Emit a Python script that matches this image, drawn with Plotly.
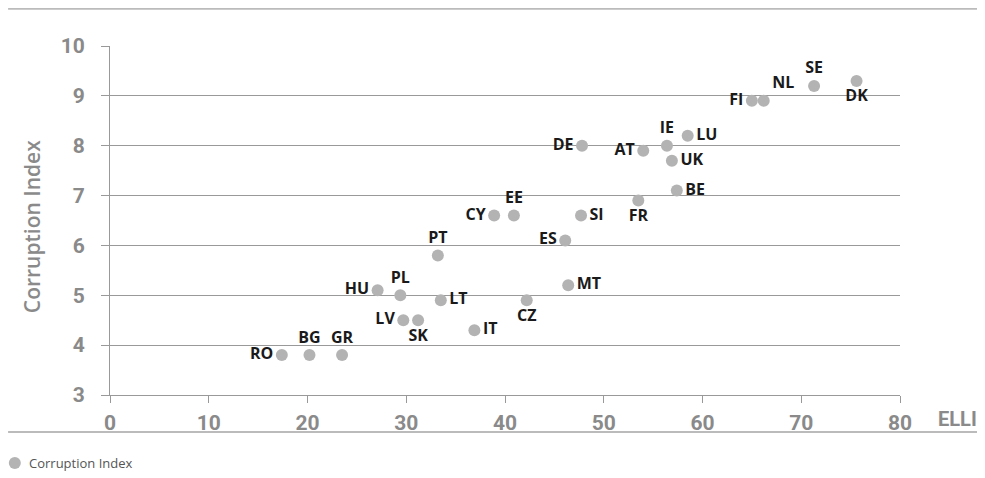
import plotly.graph_objects as go

countries = ["RO", "BG", "GR", "HU", "PL", "LV", "SK", "LT", "IT", "CZ", "PT", "CY", "EE", "ES",
             "SI", "MT", "DE", "AT", "FR", "IE", "LU", "UK", "BE", "FI", "NL", "SE", "DK"]
elli = [17.4, 20.2, 23.5, 27.1, 29.4, 29.7, 31.2, 33.5, 36.9, 42.2, 33.2, 38.9, 40.9, 46.1,
        47.7, 46.4, 47.8, 54.0, 53.5, 56.4, 58.5, 56.9, 57.4, 65.0, 66.2, 71.3, 75.6]
corruption = [3.8, 3.8, 3.8, 5.1, 5.0, 4.5, 4.5, 4.9, 4.3, 4.9, 5.8, 6.6, 6.6, 6.1,
              6.6, 5.2, 8.0, 7.9, 6.9, 8.0, 8.2, 7.7, 7.1, 8.9, 8.9, 9.2, 9.3]
label_pos = ["middle left", "top center", "top center", "middle left", "top center", "middle left",
             "bottom center", "middle right", "middle right", "bottom center", "top center",
             "middle left", "top center", "middle left", "middle right", "middle right",
             "middle left", "middle left", "bottom center", "top center", "middle right",
             "middle right", "middle right", "middle left", "top right", "top center", "bottom center"]

x_ticks = [0, 10, 20, 30, 40, 50, 60, 70, 80]
y_ticks = [3, 4, 5, 6, 7, 8, 9, 10]

GRAY = "#8a8a8a"
DOT = "#b3b3b3"
COND = "Roboto, sans-serif"
TICKFONT = dict(family=COND, size=21, color=GRAY, weight="bold")

fig = go.Figure()
fig.add_trace(go.Scatter(
    x=elli, y=corruption, mode="markers+text", text=countries, textposition=label_pos,
    name="Corruption Index",
    marker=dict(color=DOT, size=12),
    textfont=dict(family="Open Sans", size=16, color="#1a1a1a", weight="bold"),
    cliponaxis=False, showlegend=False,
))

fig.update_layout(
    width=977, height=470,
    margin=dict(l=102, r=85, t=38, b=83),
    plot_bgcolor="white", paper_bgcolor="white",
    xaxis=dict(range=[0, 80], tickvals=x_ticks, showgrid=False, zeroline=False,
               showline=True, linecolor="#999999", linewidth=1,
               ticks="outside", ticklen=7, tickcolor="#999999",
               tickfont=TICKFONT, ticklabelstandoff=2),
    yaxis=dict(range=[3, 10], tickvals=y_ticks, showgrid=True, gridcolor="#999999", gridwidth=1,
               zeroline=False, showline=True, linecolor="#999999", linewidth=1,
               ticks="outside", ticklen=8, tickcolor="#999999",
               tickfont=TICKFONT, ticklabelstandoff=12),
    shapes=[
        dict(type="line", xref="paper", yref="paper", x0=-0.129, x1=1.108, y0=1.107, y1=1.107,
             line=dict(color="#bbbbbb", width=2)),
        dict(type="line", xref="paper", yref="paper", x0=-0.129, x1=1.108, y0=-0.106, y1=-0.106,
             line=dict(color="#bbbbbb", width=2)),
        dict(type="circle", xref="paper", yref="paper", xsizemode="pixel", ysizemode="pixel",
             xanchor=-0.1205, yanchor=-0.1948, x0=-6, x1=6, y0=-6, y1=6,
             fillcolor=DOT, line=dict(width=0)),
    ],
    annotations=[
        dict(text="Corruption Index", xref="paper", yref="paper", x=-0.0987, y=0.481,
             textangle=-90, xanchor="center", yanchor="middle", showarrow=False,
             font=dict(family="Open Sans", size=21, color=GRAY, weight=600)),
        dict(text="ELLI", xref="paper", yref="paper", x=1.046, y=-0.069, xanchor="left", yanchor="middle",
             showarrow=False, font=dict(family=COND, size=20, color=GRAY, weight="bold")),
        dict(text="Corruption Index", xref="paper", yref="paper",
             x=-0.105, y=-0.1948, xanchor="left", yanchor="middle", showarrow=False,
             font=dict(family="Open Sans", size=13, color="#555555")),
    ],
)

fig.write_html("out.html")
